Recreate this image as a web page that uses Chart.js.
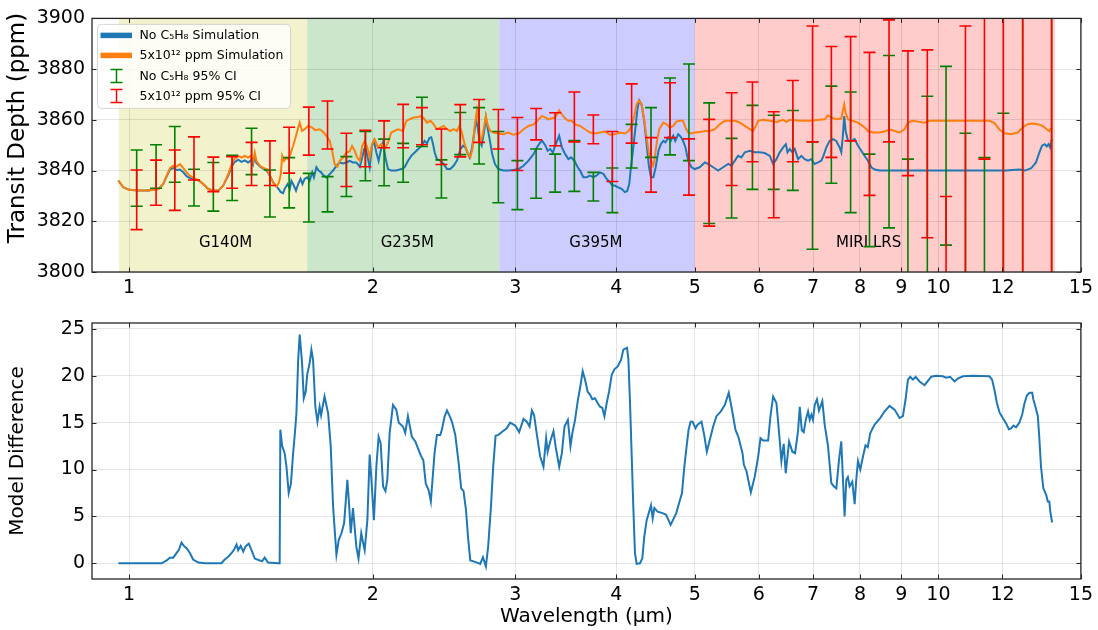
<!DOCTYPE html>
<html><head><meta charset="utf-8">
<script src="https://cdn.jsdelivr.net/npm/chart.js@4/dist/chart.umd.min.js"></script>
<style>
html,body{margin:0;padding:0;background:#fff;}
#wrap{position:relative;width:1098px;height:630px;overflow:hidden;}
#c1{position:absolute;left:0;top:0;}
#c2{position:absolute;left:0;top:300px;}
</style></head><body>
<div id="wrap"><canvas id="c1" width="1098" height="300"></canvas><canvas id="c2" width="1098" height="330"></canvas></div>
<script>
// ---------------- data ----------------
const xTickValues = [1,2,3,4,5,6,7,8,9,10,12,15];
const depthTicks = [3800,3820,3840,3860,3880,3900];
const diffTicks = [0,5,10,15,20,25];

const bandNames = ['G140M','G235M','G395M','MIRI LRS'];
const bandStart = [0.972,1.660,2.867,5.0];
const bandEnd   = [1.660,2.867,5.0,13.93];
const bandLabelX = [1.316,2.207,3.775,8.20];
const bandLabelY = 3811.3;

const seriesNames = ['No C\u2085H\u2088 Simulation','5x10\u00b9\u00b2 ppm Simulation','No C\u2085H\u2088 95% CI','5x10\u00b9\u00b2 ppm 95% CI'];

const blueWave = [0.970,0.984,1.000,1.027,1.056,1.087,1.102,1.113,1.124,1.134,1.145,1.156,1.167,1.178,1.189,1.206,1.218,1.235,1.253,1.271,1.289,1.307,1.326,1.339,1.349,1.364,1.377,1.390,1.403,1.414,1.423,1.430,1.437,1.451,1.465,1.479,1.493,1.507,1.522,
1.530,1.540,1.550,1.557,1.570,1.580,1.587,1.598,1.608,1.618,1.629,1.638,1.648,1.660,1.672,1.684,1.692,1.704,1.715,1.727,1.740,1.754,1.770,1.787,1.804,1.821,1.838,1.856,1.873,1.891,1.909,1.928,1.941,1.952,1.960,1.970,1.983,1.996,2.007,2.021,2.034,2.046,2.060,2.074,2.089,2.109,2.139,2.170,2.190,2.211,2.232,2.254,2.275,
2.300,2.318,2.334,2.350,2.363,2.375,2.386,2.401,2.424,2.447,2.471,2.494,2.518,2.542,2.567,2.587,2.603,2.623,2.635,2.652,2.672,2.684,2.697,2.710,2.727,2.749,2.760,2.773,2.794,2.810,2.832,2.860,2.901,2.943,2.985,3.029,3.072,3.116,3.161,3.191,3.221,3.240,3.270,3.290,3.314,3.340,3.361,3.380,3.400,3.426,3.450,3.470,3.490,3.516,3.550,3.584,3.608,3.642,3.677,3.711,3.746,3.780,3.818,3.855,3.892,3.928,3.955,3.984,4.022,4.060,4.099,4.126,4.150,4.170,4.198,4.226,4.250,4.270,4.298,4.330,4.360,4.390,4.415,4.445,4.474,4.510,4.540,4.572,4.600,4.637,4.670,4.703,4.730,4.770,4.806,4.837,4.870,4.907,4.954,
5.000,5.070,5.145,5.190,5.270,5.345,5.420,5.500,5.550,5.604,5.657,5.710,5.765,5.848,5.930,6.017,6.100,6.190,6.249,6.308,6.368,6.430,6.480,6.510,6.554,6.600,6.645,6.708,6.771,6.836,6.901,6.966,7.033,7.101,7.168,7.210,7.270,7.339,7.409,7.478,7.551,7.586,7.620,7.650,7.680,7.733,7.806,7.880,7.956,8.031,8.107,8.184,8.263,8.341,8.459,8.703,9.125,9.567,10.03,10.51,11.02,11.56,12.12,12.59,12.80,13.02,13.20,13.33,13.43,13.53,13.61,13.68,13.74,13.81];
const blueDepth = [3836.0,3833.4,3832.4,3832.1,3832.1,3832.7,3834.6,3837.7,3840.5,3841.0,3840.2,3840.4,3839.3,3837.8,3837.0,3836.4,3836.2,3834.7,3832.7,3832.1,3832.1,3834.0,3838.0,3841.5,3843.2,3844.3,3843.4,3844.0,3843.2,3844.0,3842.3,3845.5,3843.0,3841.6,3840.8,3840.0,3838.0,3835.3,3833.7,
3832.8,3831.5,3831.1,3832.8,3834.7,3832.8,3836.0,3834.1,3832.1,3834.7,3836.7,3834.7,3836.7,3837.3,3836.0,3839.3,3837.3,3841.3,3840.0,3839.3,3838.0,3837.3,3838.6,3840.0,3841.9,3843.2,3842.8,3843.2,3843.8,3843.2,3843.2,3841.5,3845.1,3848.4,3849.1,3845.8,3841.3,3849.7,3851.7,3847.1,3843.8,3847.8,3851.1,3845.1,3840.6,3840.0,3840.0,3840.6,3841.3,3843.8,3845.8,3847.1,3848.4,
3849.8,3851.7,3850.7,3852.8,3853.1,3850.4,3847.1,3844.5,3843.9,3842.6,3840.6,3840.6,3841.9,3843.9,3848.5,3849.8,3849.1,3846.5,3845.2,3848.5,3855.6,3860.2,3856.9,3851.7,3849.8,3856.3,3860.9,3856.9,3851.1,3846.5,3842.6,3840.6,3840.0,3840.0,3840.2,3840.6,3841.9,3843.9,3846.5,3849.1,3851.1,3851.7,3849.8,3847.8,3848.5,3847.1,3849.8,3851.7,3853.7,3849.1,3847.1,3845.8,3844.5,3845.2,3843.9,3841.3,3840.0,3837.4,3837.4,3838.0,3837.4,3838.0,3839.3,3838.7,3836.7,3835.4,3834.1,3834.1,3833.4,3832.8,3831.5,3831.9,3834.8,3841.3,3849.1,3857.6,3864.8,3867.6,3866.1,3859.6,3850.4,3841.3,3837.4,3837.4,3841.3,3847.8,3850.4,3851.7,3851.1,3853.0,3851.7,3853.7,3851.7,3854.3,3853.3,3851.7,3849.1,3843.9,3841.3,
3840.6,3841.3,3843.2,3842.6,3841.3,3840.0,3841.3,3842.6,3841.9,3843.9,3845.8,3845.2,3847.2,3847.8,3847.2,3847.2,3846.9,3845.8,3842.6,3844.5,3847.2,3849.1,3850.4,3847.2,3848.5,3847.2,3848.5,3844.5,3845.8,3844.5,3843.9,3844.5,3842.6,3843.2,3843.9,3845.8,3849.1,3851.7,3852.4,3851.7,3849.1,3847.2,3853.7,3861.5,3855.6,3851.7,3851.7,3852.4,3849.8,3847.8,3845.8,3843.9,3841.3,3840.4,3840.0,3840.0,3840.0,3840.0,3840.0,3840.0,3840.0,3840.0,3840.0,3840.4,3840.0,3840.9,3843.2,3847.2,3849.8,3850.4,3849.5,3850.4,3849.1,3852.4];

const orangeWave = [0.970,0.984,1.000,1.027,1.056,1.087,1.102,1.113,1.124,1.134,1.145,1.156,1.167,1.178,1.189,1.206,1.218,1.235,1.253,1.271,1.289,1.307,1.326,1.339,1.349,1.364,1.377,1.390,1.403,1.414,1.423,1.430,1.437,1.451,1.465,1.479,1.493,1.507,1.522,1.532,1.540,1.546,1.554,1.565,1.575,1.585,1.595,1.606,1.618,1.625,1.636,1.648,1.664,1.684,1.699,1.720,1.736,1.754,1.770,1.782,1.795,1.809,1.821,1.838,1.856,1.873,1.886,1.900,1.914,1.928,1.941,1.955,1.970,1.983,1.996,2.012,2.030,2.050,2.069,2.089,2.109,2.128,2.149,2.180,2.200,2.220,2.243,2.275,
2.291,2.310,2.334,2.358,2.379,2.401,2.424,2.447,2.471,2.494,2.518,2.542,2.559,2.578,2.598,2.623,2.640,2.657,2.672,2.691,2.703,2.716,2.730,2.749,2.760,2.773,2.794,2.820,2.860,2.901,2.943,2.985,3.029,3.072,3.116,3.161,3.207,3.236,3.270,3.298,3.330,3.361,3.400,3.426,3.457,3.490,3.523,3.557,3.608,3.659,3.711,3.764,3.818,3.873,3.928,3.984,4.041,4.099,4.140,4.178,4.210,4.237,4.266,4.298,4.330,4.360,4.390,4.415,4.440,4.457,4.491,4.520,4.572,4.615,4.659,4.703,4.747,4.792,4.837,4.870,4.907,4.954,
5.000,5.072,5.145,5.220,5.295,5.370,5.447,5.525,5.604,5.684,5.765,5.848,5.903,5.950,5.988,6.074,6.190,6.308,6.430,6.490,6.554,6.742,6.935,7.134,7.236,7.305,7.375,7.478,7.586,7.620,7.650,7.680,7.733,7.843,7.956,8.031,8.107,8.184,8.300,8.459,8.621,8.703,8.828,8.954,9.083,9.169,9.297,9.475,9.611,9.748,10.03,10.51,11.02,11.56,11.73,11.89,12.07,12.29,12.53,12.71,12.89,13.08,13.27,13.45,13.61,13.71,13.81];
const orangeDepth = [3836.0,3833.4,3832.4,3832.1,3832.1,3832.7,3834.7,3838.0,3841.0,3841.9,3841.5,3842.5,3841.0,3839.3,3838.0,3836.7,3836.3,3834.7,3832.7,3832.1,3832.1,3834.0,3838.6,3842.5,3844.5,3845.8,3845.1,3845.8,3845.1,3845.8,3843.2,3847.1,3843.8,3841.9,3841.0,3840.6,3838.0,3835.3,3833.7,3835.3,3838.6,3845.8,3843.8,3845.1,3844.5,3847.1,3849.8,3853.0,3856.9,3858.9,3855.6,3856.3,3857.6,3856.9,3855.9,3856.3,3855.3,3853.6,3851.7,3847.8,3842.5,3841.5,3843.8,3845.1,3847.1,3847.5,3849.7,3847.8,3845.1,3843.8,3849.7,3851.7,3849.1,3845.1,3850.4,3852.3,3849.1,3850.4,3848.4,3851.0,3855.0,3855.6,3856.3,3855.6,3859.5,3860.2,3860.8,3861.1,
3861.5,3860.9,3858.9,3859.6,3858.2,3856.3,3856.9,3857.6,3856.3,3855.6,3856.3,3855.6,3857.6,3855.0,3850.4,3846.5,3845.2,3848.5,3856.9,3863.7,3859.6,3851.1,3853.0,3858.2,3861.5,3858.2,3855.6,3855.0,3854.6,3854.3,3855.0,3854.1,3854.6,3856.3,3857.6,3858.2,3860.2,3861.5,3860.9,3860.2,3860.6,3860.9,3863.7,3862.2,3860.6,3859.6,3859.6,3858.2,3857.6,3856.3,3855.0,3854.6,3855.0,3855.4,3854.1,3854.3,3855.0,3854.6,3855.6,3857.6,3861.5,3866.1,3867.6,3866.1,3860.2,3853.0,3846.5,3843.9,3841.9,3843.9,3851.7,3856.3,3858.9,3858.2,3856.9,3857.6,3859.3,3859.6,3859.6,3856.9,3855.0,3854.6,
3855.0,3855.2,3855.6,3855.6,3856.3,3858.3,3859.6,3859.6,3859.6,3858.9,3857.6,3856.3,3855.6,3857.6,3859.6,3860.0,3859.6,3859.2,3860.0,3859.2,3860.0,3859.6,3859.6,3860.0,3860.2,3861.8,3860.9,3860.2,3860.5,3863.5,3866.1,3862.8,3860.2,3859.6,3858.9,3857.9,3857.0,3855.6,3855.0,3855.0,3855.6,3856.3,3855.6,3855.0,3856.3,3858.9,3859.6,3859.2,3858.9,3859.6,3859.6,3859.6,3859.6,3859.6,3858.7,3856.3,3854.7,3854.3,3855.0,3857.0,3858.3,3858.6,3858.3,3857.6,3856.3,3855.6,3857.0];

const ciWave = [1.022,1.080,1.139,1.203,1.271,1.341,1.417,1.493,1.577,1.668,1.759,1.856,1.959,2.066,2.181,2.301,2.432,2.566,2.707,2.860,3.019,3.184,3.361,3.550,3.747,3.955,4.178,4.415,4.660,4.918,5.21,5.553,5.892,6.26,6.61,6.99,7.375,7.79,8.22,8.69,9.17,9.69,10.22,10.80,11.40,12.03,12.71,13.80];
const noneLo = [3825.9,3833.0,3835.4,3826.0,3824.0,3828.2,3838.4,3821.7,3825.3,3819.7,3823.7,3829.8,3836.0,3834.0,3835.4,3849.5,3829.2,3846.3,3842.6,3827.3,3824.6,3829.1,3831.5,3831.8,3828.0,3823.4,3841.0,3845.2,3846.2,3843.9,3819.1,3821.3,3832.6,3832.6,3832.2,3809.0,3835.0,3823.4,3810.0,3817.4,3790,3790,3810.6,3790,3770,3780,3760,3760];
const noneHi = [3848.1,3850.2,3857.4,3840.5,3843.2,3846.0,3856.7,3840.2,3845.1,3838.9,3837.6,3845.5,3855.4,3852.4,3850.7,3868.9,3844.2,3862.9,3864.8,3855.4,3843.9,3848.5,3846.5,3851.8,3839.3,3841.0,3858.2,3864.8,3876.5,3882.0,3866.7,3852.7,3865.7,3861.8,3863.7,3851.3,3873.3,3871.0,3846.5,3885.4,3844.5,3869.3,3881.1,3854.7,3845.1,3862.6,3930,3930];
const highLo = [3816.7,3826.3,3824.3,3836.3,3831.7,3833.0,3834.1,3834.1,3839.0,3846.1,3848.5,3833.7,3841.5,3849.0,3849.0,3850.2,3842.4,3845.4,3851.1,3848.5,3840.0,3852.1,3849.8,3851.3,3850.6,3835.7,3850.8,3831.5,3853.0,3830.3,3818.1,3834.1,3843.5,3821.4,3843.5,3851.3,3845.2,3851.7,3830.2,3851.3,3838.0,3813.5,3760,3760,3844.5,3760,3760,3760];
const highHi = [3840.2,3844.1,3848.1,3853.3,3845.3,3845.5,3851.1,3851.7,3857.1,3865.0,3867.4,3854.7,3855.9,3859.6,3866.1,3864.8,3856.4,3866.0,3868.0,3864.1,3860.9,3864.5,3862.8,3871.0,3861.9,3855.4,3874.2,3853.0,3874.6,3852.5,3860.2,3870.7,3874.9,3863.2,3875.5,3897.0,3888.9,3892.8,3886.6,3899.4,3887.2,3887.6,3829.8,3897.0,3940,3940,3940,3940];

const diffWave = [0.970,1.097,1.113,1.123,1.134,1.145,1.152,1.161,1.170,1.178,1.189,1.200,1.218,1.241,1.301,1.313,1.326,1.339,1.349,1.358,1.364,1.374,1.384,1.393,1.406,1.417,1.430,1.451,1.460,1.471,1.485,1.528,1.535,1.538,1.546,1.557,1.565,1.575,1.585,1.595,1.603,1.610,1.618,1.625,1.636,1.644,1.653,1.660,1.672,1.680,1.688,1.699,1.709,1.720,1.727,1.744,1.762,1.775,1.787,1.804,1.816,1.830,1.844,1.861,1.871,1.879,1.891,1.909,1.921,1.936,1.945,1.955,1.970,1.983,1.993,2.007,2.021,2.034,2.046,2.060,2.074,2.085,2.099,2.119,2.139,2.154,2.180,2.194,2.211,2.236,2.258,2.279,2.296,2.310,2.326,2.345,2.360,2.385,2.401,2.424,2.435,2.455,2.471,2.490,2.506,2.530,2.554,2.573,2.590,2.608,2.623,2.640,2.665,2.691,2.716,2.737,2.760,2.778,2.800,2.818,2.837,2.860,2.888,2.929,2.957,3.000,3.034,3.072,3.101,3.125,3.146,3.166,3.191,3.221,3.251,3.276,3.290,3.314,3.345,3.368,3.400,3.426,3.452,3.485,3.511,3.530,3.557,3.584,3.608,3.635,3.659,3.687,3.711,3.736,3.764,3.793,3.818,3.843,3.867,3.892,3.918,3.948,3.978,4.016,4.054,4.081,4.124,4.140,4.159,4.178,4.198,4.218,4.238,4.278,4.307,4.331,4.361,4.415,4.436,4.457,4.498,4.562,4.606,4.641,4.668,4.699,4.744,4.788,4.822,4.850,4.880,4.913,4.941,4.970,5.011,5.040,5.097,5.136,5.175,5.220,5.269,5.319,5.385,5.447,5.508,5.550,5.614,5.660,5.728,5.750,5.794,5.865,5.932,5.989,6.029,6.074,6.161,6.202,6.249,6.308,6.356,6.398,6.440,6.477,6.539,6.601,6.651,6.708,6.741,6.780,6.817,6.857,6.902,6.935,6.968,7.000,7.034,7.079,7.120,7.188,7.236,7.305,7.374,7.430,7.480,7.537,7.586,7.658,7.695,7.730,7.768,7.827,7.880,7.916,7.955,8.008,8.069,8.128,8.180,8.238,8.341,8.459,8.581,8.704,8.828,8.954,9.040,9.109,9.170,9.231,9.302,9.373,9.478,9.614,9.797,9.938,10.13,10.22,10.34,10.42,10.47,10.57,10.72,11.03,11.56,11.65,11.73,11.81,11.90,12.01,12.13,12.22,12.30,12.38,12.47,12.59,12.69,12.77,12.86,12.96,13.06,13.10,13.18,13.27,13.33,13.39,13.48,13.59,13.65,13.71,13.75,13.82];
const diffVal = [0,0,0.3,0.6,0.6,1.1,1.4,2.2,1.8,1.6,1.1,0.4,0.07,0,0,0.4,0.7,1.1,1.5,2.0,1.4,1.85,1.25,1.8,2.1,1.4,0.5,0.3,0.2,0.6,0.07,0,0,14.25,12.5,11.75,10.3,7.5,8.5,11.75,13.9,16.0,21.7,24.4,21.4,17.6,18.3,20.1,21.4,22.8,21.7,16.7,15.1,16.7,15.8,17.8,16.0,12.5,6.05,0.9,2.5,3.2,4.3,8.9,6.05,3.2,5.9,1.8,0.5,3.2,2.3,1.4,4.6,11.6,8.9,4.6,10.3,13.5,12.8,8.2,7.7,8.9,13.9,16.9,16.4,15.0,14.6,13.9,15.7,13.5,13.0,12.1,11.4,11.0,8.5,7.8,6.6,11.75,13.7,13.7,14.25,15.7,16.3,15.7,15.1,13.7,10.7,8.0,7.7,5.7,2.85,0.3,0.2,0.07,-0.07,0.65,-0.35,1.8,6.05,10.3,13.6,13.7,14.0,14.4,15.0,14.7,14.0,15.4,15.1,14.6,16.3,15.8,13.7,11.4,10.3,13.35,11.9,13.0,14.1,12.3,10.3,11.75,14.6,15.3,12.5,13.9,15.3,17.3,18.7,20.5,19.6,18.3,18.0,17.5,17.6,17.1,16.7,16.6,15.7,17.1,18.3,20.1,20.7,21.0,21.7,22.8,23.0,21.7,17.1,11.75,6.05,1.07,-0.07,0,0.5,2.85,4.6,6.2,4.8,5.9,5.5,5.35,5.2,4.6,4.1,4.6,5.35,6.6,7.5,10.0,12.1,14.25,15.1,15.1,14.4,14.8,15.1,13.7,11.9,13.2,14.6,15.7,16.2,16.9,18.2,16.7,14.25,13.5,11.75,10.5,9.8,7.55,9.3,11.4,13.35,13.1,13.1,15.7,17.8,17.1,13.9,10.9,12.75,9.6,13.0,11.9,11.75,14.1,16.7,14.2,14.0,15.3,16.2,15.3,15.85,15.3,16.9,17.5,16.3,17.3,14.8,12.5,8.55,8.2,8.0,11.0,13.0,5.0,8.9,9.2,8.2,8.7,6.3,8.9,10.9,10.0,11.4,12.6,12.4,13.9,14.8,15.4,16.2,16.8,16.4,15.5,15.7,17.5,19.6,19.9,19.6,19.9,19.4,19.0,19.9,20.0,19.95,19.8,19.9,19.6,19.4,19.7,19.95,20.0,19.95,19.6,18.5,17.1,16.1,15.5,14.9,14.3,14.4,14.7,14.5,15.0,15.85,17.0,17.9,18.2,18.2,17.5,16.7,15.7,13.2,10.3,8.0,7.3,6.6,6.6,5.5,4.35];

// ---------------- helpers ----------------
const FONT = 'DejaVu Sans';
Chart.defaults.font.family = FONT;
Chart.defaults.color = '#000';
const C_BLUE = '#1f77b4', C_ORANGE = '#ff7f0e', C_GREEN = '#008000', C_RED = '#ff0000';
const bandColors = ['#f2f2cc','#cce6cc','#ccccff','#ffcccc'];

function xy(w, v){ return w.map((x,i)=>({x:x, y:v[i]})); }
function errSegs(lo, hi){
  const d = [];
  ciWave.forEach((w,i)=>{ d.push({x:w,y:lo[i]},{x:w,y:hi[i]},{x:w,y:null}); });
  return d;
}

const frameTicks = {
  id: 'frameTicks',
  afterDraw(chart, args, opts){
    const {ctx, chartArea:a, scales} = chart;
    ctx.save();
    ctx.strokeStyle = '#262626'; ctx.lineWidth = 1;
    const L = 4.5;
    ctx.beginPath();
    xTickValues.forEach(v=>{
      const px = Math.round(scales.x.getPixelForValue(v)) + 0.5;
      ctx.moveTo(px, a.bottom); ctx.lineTo(px, a.bottom - L);
      ctx.moveTo(px, a.top); ctx.lineTo(px, a.top + L);
    });
    opts.yTicks.forEach(v=>{
      const py = Math.round(scales.y.getPixelForValue(v)) + 0.5;
      ctx.moveTo(a.left, py); ctx.lineTo(a.left + L, py);
      ctx.moveTo(a.right, py); ctx.lineTo(a.right - L, py);
    });
    ctx.stroke();
    ctx.lineWidth = 1.3;
    ctx.strokeRect(a.left, a.top, a.right - a.left, a.bottom - a.top);
    ctx.restore();
  }
};

const bandPlugin = {
  id: 'bands',
  beforeDraw(chart){
    const {ctx, chartArea:a, scales:{x}} = chart;
    ctx.save();
    bandNames.forEach((n,i)=>{
      const x0 = x.getPixelForValue(bandStart[i]), x1 = x.getPixelForValue(bandEnd[i]);
      ctx.fillStyle = bandColors[i];
      ctx.fillRect(x0, a.top, x1 - x0, a.bottom - a.top);
    });
    ctx.restore();
  },
  beforeDatasetsDraw(chart){
    const {ctx, scales:{x,y}} = chart;
    ctx.save();
    ctx.fillStyle = '#000';
    ctx.font = '15px "' + FONT + '"';
    ctx.textAlign = 'center'; ctx.textBaseline = 'middle';
    bandNames.forEach((n,i)=>{
      ctx.fillText(n, x.getPixelForValue(bandLabelX[i]), y.getPixelForValue(bandLabelY));
    });
    ctx.restore();
  }
};

const legendPlugin = {
  id: 'customLegend',
  afterDraw(chart){
    const {ctx, chartArea:a} = chart;
    ctx.save();
    const bx = a.left + 5.5, by = a.top + 6, bw = 193, bh = 84, r = 4;
    ctx.beginPath();
    ctx.moveTo(bx + r, by); ctx.lineTo(bx + bw - r, by); ctx.arcTo(bx + bw, by, bx + bw, by + r, r);
    ctx.lineTo(bx + bw, by + bh - r); ctx.arcTo(bx + bw, by + bh, bx + bw - r, by + bh, r);
    ctx.lineTo(bx + r, by + bh); ctx.arcTo(bx, by + bh, bx, by + bh - r, r);
    ctx.lineTo(bx, by + r); ctx.arcTo(bx, by, bx + r, by, r); ctx.closePath();
    ctx.fillStyle = 'rgba(255,255,255,0.8)'; ctx.fill();
    ctx.strokeStyle = 'rgba(204,204,204,0.8)'; ctx.lineWidth = 1; ctx.stroke();
    const rowY = [by + 11, by + 31, by + 51.5, by + 71.5];
    const hx0 = bx + 3, hx1 = bx + 34.5, hxc = bx + 19;
    [[C_BLUE,0],[C_ORANGE,1]].forEach(([c,k])=>{
      ctx.strokeStyle = c; ctx.lineWidth = 5.5; ctx.lineCap = 'butt';
      ctx.beginPath(); ctx.moveTo(hx0, rowY[k]); ctx.lineTo(hx1, rowY[k]); ctx.stroke();
    });
    [[C_GREEN,2],[C_RED,3]].forEach(([c,k])=>{
      ctx.strokeStyle = c; ctx.lineWidth = 1.5;
      const yc = rowY[k];
      ctx.beginPath();
      ctx.moveTo(hxc, yc - 6.5); ctx.lineTo(hxc, yc + 6.5);
      ctx.moveTo(hxc - 6, yc - 6.5); ctx.lineTo(hxc + 6, yc - 6.5);
      ctx.moveTo(hxc - 6, yc + 6.5); ctx.lineTo(hxc + 6, yc + 6.5);
      ctx.stroke();
    });
    ctx.fillStyle = '#000';
    ctx.font = '12.5px "' + FONT + '"';
    ctx.textAlign = 'left'; ctx.textBaseline = 'middle';
    seriesNames.forEach((t,k)=> ctx.fillText(t, bx + 42, rowY[k] + 0.5));
    // y axis title (top panel)
    ctx.save();
    ctx.translate(18, 128);
    ctx.rotate(-Math.PI/2);
    ctx.font = '23px "' + FONT + '"';
    ctx.textAlign = 'center'; ctx.textBaseline = 'middle';
    ctx.fillText('Transit Depth (ppm)', 0, 0);
    ctx.restore();
    ctx.restore();
  }
};

function logX(showTitle){
  return {
    type: 'logarithmic', min: 0.9, max: 15,
    afterBuildTicks(s){ s.ticks = xTickValues.map(v=>({value:v})); },
    afterFit(s){ s.height = showTitle ? 51 : 28; },
    ticks: { autoSkip:false, maxRotation:0, padding:5, font:{size:19}, color:'#000',
      callback:(v)=>String(v) },
    grid: { color:'rgba(0,0,0,0.1)', lineWidth:1, drawTicks:false },
    border: { display:false },
    title: showTitle ? { display:true, text:'Wavelength (\u03bcm)', font:{size:20}, padding:{top:0,bottom:1}, color:'#000' } : { display:false }
  };
}

const common = {
  responsive:false, animation:false, devicePixelRatio:1, events:[],
  elements:{ line:{ tension:0 }, point:{ radius:0 } },
};

// ---------------- top chart ----------------
new Chart(document.getElementById('c1'), {
  type:'line',
  data:{ datasets:[
    { label:seriesNames[3], data:errSegs(highLo, highHi), borderColor:C_RED, borderWidth:1.6, spanGaps:false,
      pointStyle:'line', pointRadius:6, pointBorderColor:C_RED, pointBorderWidth:1.6, order:0, clip:0 },
    { label:seriesNames[2], data:errSegs(noneLo, noneHi), borderColor:C_GREEN, borderWidth:1.6, spanGaps:false,
      pointStyle:'line', pointRadius:6, pointBorderColor:C_GREEN, pointBorderWidth:1.6, order:1, clip:0 },
    { label:seriesNames[1], data:xy(orangeWave, orangeDepth), borderColor:C_ORANGE, borderWidth:2, pointRadius:0, order:2, clip:0 },
    { label:seriesNames[0], data:xy(blueWave, blueDepth), borderColor:C_BLUE, borderWidth:2, pointRadius:0, order:3, clip:0 }
  ]},
  options:{ ...common,
    layout:{ padding:{ top:17, right:17, left:0, bottom:0 } },
    plugins:{ legend:{display:false}, tooltip:{enabled:false}, frameTicks:{ yTicks:depthTicks } },
    scales:{
      x: logX(false),
      y: { min:3800, max:3900,
        afterBuildTicks(s){ s.ticks = depthTicks.map(v=>({value:v})); },
        afterFit(s){ s.width = 92; },
        ticks:{ padding:7, font:{size:19}, color:'#000', callback:(v)=>String(v) },
        grid:{ color:'rgba(0,0,0,0.1)', drawTicks:false }, border:{display:false} }
    }
  },
  plugins:[bandPlugin, frameTicks, legendPlugin]
});

// ---------------- bottom chart ----------------
new Chart(document.getElementById('c2'), {
  type:'line',
  data:{ datasets:[
    { label:'Model Difference', data:xy(diffWave, diffVal), borderColor:C_BLUE, borderWidth:2, pointRadius:0, clip:0 }
  ]},
  options:{ ...common,
    layout:{ padding:{ top:23, right:17, left:0, bottom:0 } },
    plugins:{ legend:{display:false}, tooltip:{enabled:false}, frameTicks:{ yTicks:diffTicks } },
    scales:{
      x: logX(true),
      y: { min:-1.68, max:25.64,
        afterBuildTicks(s){ s.ticks = diffTicks.map(v=>({value:v})); },
        afterFit(s){ s.width = 92; },
        ticks:{ padding:7, font:{size:19}, color:'#000', callback:(v)=>String(v) },
        grid:{ color:'rgba(0,0,0,0.1)', drawTicks:false }, border:{display:false},
        title:{ display:true, text:'Model Difference', font:{size:20}, padding:{top:6,bottom:0}, color:'#000' } }
    }
  },
  plugins:[frameTicks]
});
</script>
</body></html>
